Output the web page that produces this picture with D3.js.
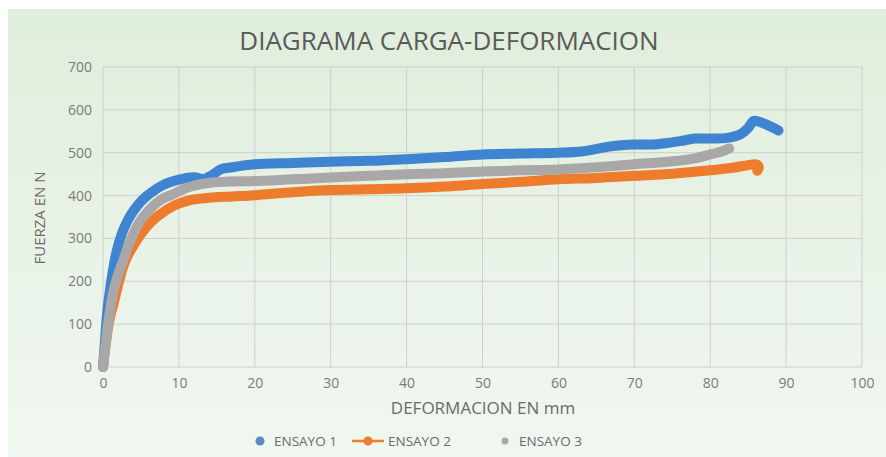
<!DOCTYPE html>
<html>
<head>
<meta charset="utf-8">
<script src="https://cdn.jsdelivr.net/npm/d3@7"></script>
<style>
  body { margin: 0; background: #fff; }
  svg { display: block; font-family: "Open Sans", "Liberation Sans", sans-serif; }
</style>
</head>
<body>
<svg id="chart" width="886" height="457"></svg>
<script>
// values (deformation mm, force N)
var ensayo1X = [0, 0.3, 0.6, 1, 1.4, 1.8, 2.5, 3, 3.6, 4.5, 5.5, 7, 8, 9, 10, 11, 12, 13, 13.5, 14.5, 15.5, 17, 20, 25, 30, 35, 40, 45, 50, 55, 60, 63, 67, 70, 73, 76, 78, 80, 82, 84, 85, 85.7, 86.5, 87.5, 89];
var ensayo1Y = [0, 70, 135, 190, 235, 270, 312, 333, 353, 376, 395, 415, 425, 432, 437, 441, 443, 439, 440, 449, 461, 466, 473, 476, 479, 481, 485, 490, 496, 498, 500, 503, 515, 519, 520, 527, 533, 533, 534, 543, 558, 574, 572, 565, 552];

var ensayo2X = [0, 0.3, 0.7, 1, 1.4, 2, 2.5, 3, 4, 5, 6, 7, 8, 9, 10, 11, 12, 14, 17, 20, 25, 30, 35, 40, 45, 50, 55, 60, 65, 70, 75, 80, 83, 85, 86, 86.4, 86.2];
var ensayo2Y = [0, 45, 95, 122, 148, 192, 225, 250, 283, 310, 332, 349, 362, 373, 381, 387, 391, 395, 398, 401, 408, 413, 415, 417, 421, 427, 432, 438, 441, 446, 451, 459, 465, 471, 473, 466, 458];

var ensayo3X = [0, 0.3, 0.6, 0.9, 1.3, 1.8, 2.2, 2.7, 3.5, 4.2, 4.9, 6, 7, 8, 9.2, 10, 11, 12, 13, 14.7, 17, 20, 25, 30, 35, 40, 45, 50, 55, 60, 65, 70, 75, 78, 80, 81.5, 82.5];
var ensayo3Y = [0, 45, 92, 128, 170, 205, 226, 250, 290, 318, 341, 365, 382, 394, 403, 410, 418, 423, 427, 431, 433, 434, 438, 442, 446, 450, 452, 456, 459, 461, 466, 473, 480, 487, 496, 503, 510];

var seriesNames = ["ENSAYO 1", "ENSAYO 2", "ENSAYO 3"];
var seriesColors = ["#3f84d1", "#ef7b2c", "#a9a7a7"];
var xTicks = [0, 10, 20, 30, 40, 50, 60, 70, 80, 90, 100];
var yTicks = [0, 100, 200, 300, 400, 500, 600, 700];

var svg = d3.select("#chart");

// panel background
var defs = svg.append("defs");
var grad = defs.append("linearGradient").attr("id", "bg").attr("x1", 0).attr("y1", 0).attr("x2", 0).attr("y2", 1);
grad.append("stop").attr("offset", "0%").attr("stop-color", "#e0eedc");
grad.append("stop").attr("offset", "100%").attr("stop-color", "#f0f7f0");
svg.append("rect").attr("x", 8).attr("y", 9).attr("width", 878).attr("height", 448).attr("fill", "url(#bg)");

var x = d3.scaleLinear().domain([0, 100]).range([103, 862]);
var y = d3.scaleLinear().domain([0, 700]).range([367, 67]);

// gridlines
svg.append("g")
    .selectAll("line")
    .data(xTicks)
    .enter()
    .append("line")
    .attr("x1", function (d) { return x(d); })
    .attr("x2", function (d) { return x(d); })
    .attr("y1", y(700))
    .attr("y2", y(0))
    .attr("stroke", "#cad2ca")
    .attr("stroke-width", 1);

svg.append("g")
    .selectAll("line")
    .data(yTicks)
    .enter()
    .append("line")
    .attr("x1", x(0))
    .attr("x2", x(100))
    .attr("y1", function (d) { return y(d); })
    .attr("y2", function (d) { return y(d); })
    .attr("stroke", "#cad2ca")
    .attr("stroke-width", 1);

// axes (labels only)
var xAxis = svg.append("g")
    .attr("transform", "translate(0," + y(0) + ")")
    .call(d3.axisBottom(x).tickValues(xTicks).tickSize(0).tickPadding(11));
var yAxis = svg.append("g")
    .attr("transform", "translate(" + x(0) + ",0)")
    .call(d3.axisLeft(y).tickValues(yTicks).tickSize(0).tickPadding(11));
[xAxis, yAxis].forEach(function (g) {
    g.select(".domain").remove();
    g.selectAll("text")
        .attr("fill", "#7b7b7b")
        .style("font-size", "14px")
        .style("font-family", "\"Open Sans\", sans-serif");
});

// series, ensayo 3 drawn last so it sits on top
var line = d3.line()
    .x(function (d) { return x(d[0]); })
    .y(function (d) { return y(d[1]); })
    .curve(d3.curveCatmullRom.alpha(0.5));

var allSeries = [
    d3.zip(ensayo1X, ensayo1Y),
    d3.zip(ensayo2X, ensayo2Y),
    d3.zip(ensayo3X, ensayo3Y)
];

svg.append("g")
    .selectAll("path")
    .data(allSeries)
    .enter()
    .append("path")
    .attr("d", line)
    .attr("fill", "none")
    .attr("stroke", function (d, i) { return seriesColors[i]; })
    .attr("stroke-width", 10)
    .attr("stroke-linecap", "round")
    .attr("stroke-linejoin", "round");

// titles
svg.append("text")
    .attr("x", 449)
    .attr("y", 50)
    .attr("text-anchor", "middle")
    .attr("fill", "#5a5a5a")
    .style("font-size", "26px")
    .text("DIAGRAMA CARGA-DEFORMACION");

svg.append("text")
    .attr("x", 483)
    .attr("y", 414)
    .attr("text-anchor", "middle")
    .attr("fill", "#6b6b6b")
    .style("font-size", "17px")
    .text("DEFORMACION EN mm");

svg.append("text")
    .attr("transform", "translate(45,218) rotate(-90)")
    .attr("text-anchor", "middle")
    .attr("fill", "#6b6b6b")
    .style("font-size", "15px")
    .text("FUERZA EN N");

// legend
var legendX = [260, 368, 505];
var legend = svg.append("g")
    .selectAll("g")
    .data(seriesNames)
    .enter()
    .append("g")
    .attr("transform", function (d, i) { return "translate(" + legendX[i] + ",441)"; });

legend.filter(function (d, i) { return i === 1; })
    .append("line")
    .attr("x1", -16).attr("x2", 16)
    .attr("stroke", seriesColors[1])
    .attr("stroke-width", 2.5);

legend.append("circle")
    .attr("r", function (d, i) { return i === 2 ? 3.5 : 4.5; })
    .attr("fill", function (d, i) { return i === 0 ? "#5b8bc4" : seriesColors[i]; });

legend.append("text")
    .attr("x", function (d, i) { return i === 1 ? 20 : 14; })
    .attr("y", 5)
    .attr("fill", "#6b6b6b")
    .style("font-size", "13.5px")
    .text(function (d) { return d; });
</script>
</body>
</html>
